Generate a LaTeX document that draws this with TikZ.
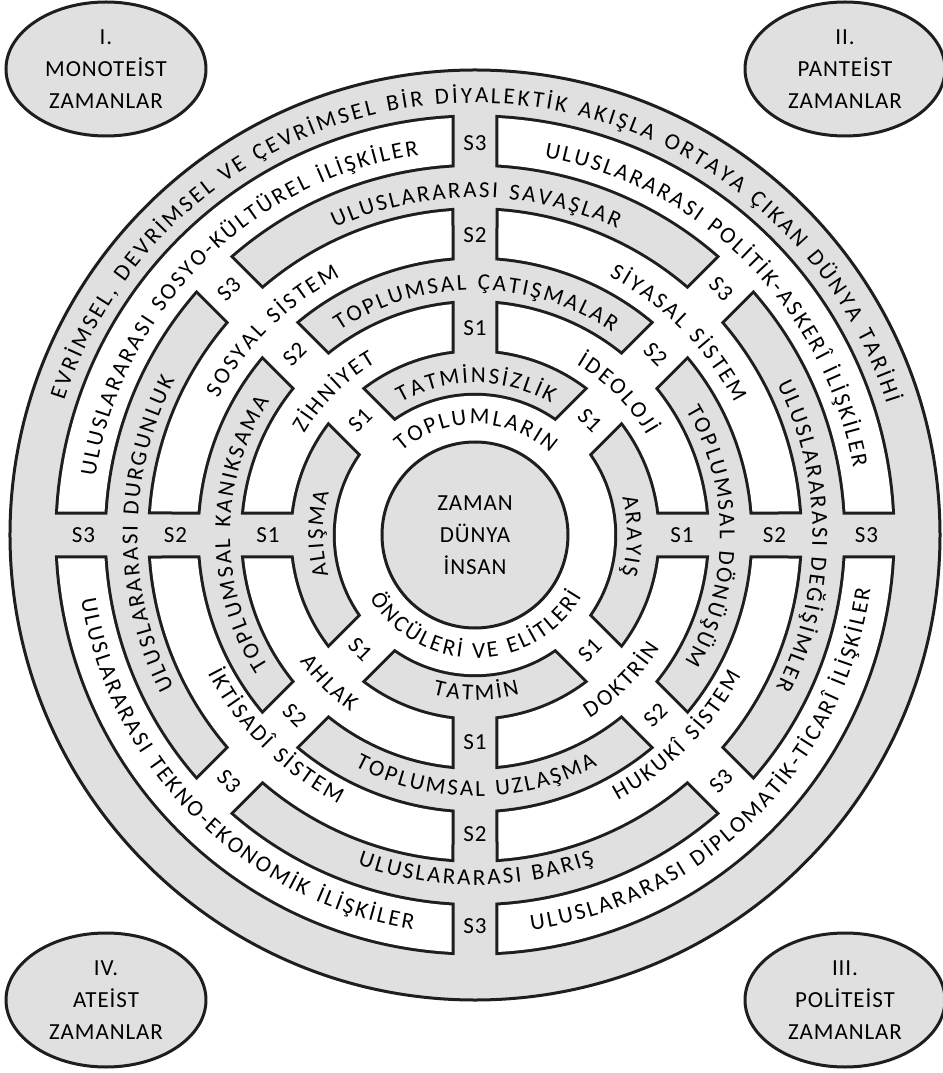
\documentclass[tikz,border=0pt]{standalone}
\usepackage{fontspec}
\setmainfont{Carlito}[LetterSpace=4]
\usetikzlibrary{shapes.geometric,decorations.text}
\definecolor{bandgray}{RGB}{224,224,224}
\definecolor{ink}{RGB}{30,30,30}
\tikzset{
  band/.style={fill=bandgray,draw=ink,line width=3pt},
  halo/.style={draw=ink,line width=6pt},
  blank/.style={fill=white},
  era/.style={ellipse,band,minimum width=200pt,minimum height=134pt,inner sep=0pt,align=center},
  core/.style={circle,band,minimum size=186pt,inner sep=0pt,align=center},
  tag/.style={inner sep=0pt}
}
\begin{document}
\begin{tikzpicture}[x=1pt,y=1pt,execute at begin picture={\fontsize{23}{32}\selectfont}]
\def\u{46.4} \def\h{23.5} \def\R{465} \def\gap{2.4pt}
\def\whites#1{%
  \path[#1] (0,0) circle ({3*\u});
  \foreach \q in {45,135,225,315}
    \path[#1,rotate=\q] (0,-\h) rectangle ({8.5*\u},\h);
  \foreach \q in {0,90,180,270}
    \foreach \ri/\ro in {4/5,6/7,8/9}
      \path[#1,rotate=\q] ({asin(\h/(\ro*\u))}:{\ro*\u})
        arc[start angle={asin(\h/(\ro*\u))},end angle={90-asin(\h/(\ro*\u))},radius={\ro*\u}]
        -- ({90-asin(\h/(\ri*\u))}:{\ri*\u})
        arc[start angle={90-asin(\h/(\ri*\u))},end angle={asin(\h/(\ri*\u))},radius={\ri*\u}] -- cycle;
}
\def\cw#1#2#3{\path[decorate,decoration={text along path,text align=center,text={|\kern\gap|#3}}]
  ({#1+89}:#2) arc[start angle={#1+89},end angle={#1-89},radius=#2];}
\def\ccw#1#2#3{\path[decorate,decoration={text along path,text align=center,text={|\kern\gap|#3}}]
  ({#1-89}:#2) arc[start angle={#1-89},end angle={#1+89},radius=#2];}
\useasboundingbox (-475,-538) rectangle (467,535);

\path[band] (0,0) circle (\R);
\whites{halo}
\whites{blank}
\node[core] (hub) at (0,0) {ZAMAN\\DÜNYA\\İNSAN};

\node[era] (mono) at (-369,466) {I.\\MONOTEİST\\ZAMANLAR};
\node[era] (pan) at (370,466) {II.\\PANTEİST\\ZAMANLAR};
\node[era] (poli) at (370,-465) {III.\\POLİTEİST\\ZAMANLAR};
\node[era] (ate) at (-369,-465) {IV.\\ATEİST\\ZAMANLAR};

\foreach \q in {0,90,180,270}
  \foreach \n/\r in {1/207,2/299.5,3/391.5}
    \node[tag] (ax\n-\q) at (\q:\r) {S\n};
\foreach \q/\t in {45/-45,135/45,225/315,315/405}
  \foreach \n/\r in {1/162.4,2/255.2,3/348}
    \node[tag,rotate=\t] (dg\n-\q) at (\q:\r) {S\n};

{\def\gap{2.8pt}
\cw{90}{432}{EVRİMSEL, DEVRİMSEL VE ÇEVRİMSEL BİR DİYALEKTİK AKIŞLA ORTAYA ÇIKAN DÜNYA TARİHİ}}
\cw{135}{384}{ULUSLARARASI SOSYO-KÜLTÜREL İLİŞKİLER}
\cw{45}{384}{ULUSLARARASI POLİTİK-ASKERÎ İLİŞKİLER}
\ccw{315}{399}{ULUSLARARASI DİPLOMATİK-TİCARÎ İLİŞKİLER}
\ccw{225}{399}{ULUSLARARASI TEKNO-EKONOMİK İLİŞKİLER}
\cw{90}{337.5}{ULUSLARARASI SAVAŞLAR}
\cw{180}{337.5}{ULUSLARARASI DURGUNLUK}
\cw{0}{337.5}{ULUSLARARASI DEĞİŞİMLER}
\ccw{270}{350}{ULUSLARARASI BARIŞ}
\cw{135}{291}{SOSYAL SİSTEM}
\cw{45}{291}{SİYASAL SİSTEM}
\ccw{315}{301}{HUKUKÎ SİSTEM}
\ccw{225}{301}{İKTİSADÎ SİSTEM}
\cw{90}{245}{TOPLUMSAL ÇATIŞMALAR}
\cw{180}{245}{TOPLUMSAL KANIKSAMA}
\cw{0}{245}{TOPLUMSAL DÖNÜŞÜM}
\ccw{270}{261}{TOPLUMSAL UZLAŞMA}
\cw{135}{198.5}{ZİHNİYET}
\cw{45}{198.5}{İDEOLOJİ}
\ccw{315}{216}{DOKTRİN}
\ccw{225}{216}{AHLAK}
\cw{90}{152}{TATMİNSİZLİK}
\cw{180}{152}{ALIŞMA}
\cw{0}{152}{ARAYIŞ}
\ccw{270}{165}{TATMİN}
\cw{90}{111}{TOPLUMLARIN}
\ccw{270}{123}{ÖNCÜLERİ VE ELİTLERİ}
\end{tikzpicture}
\end{document}
